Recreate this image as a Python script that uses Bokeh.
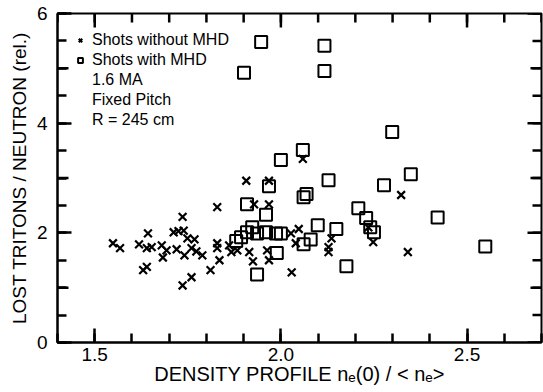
from bokeh.plotting import figure
from bokeh.models import (Range1d, LinearAxis, FixedTicker, Legend, LegendItem,
                          NumeralTickFormatter)
from bokeh.embed import file_html
from bokeh.resources import INLINE

# Shots without MHD (crosses)
x_no_mhd = [1.549, 1.568, 1.619, 1.643, 1.640, 1.653, 1.630, 1.640, 1.680, 1.683,
            1.693, 1.712, 1.725, 1.739, 1.720, 1.736, 1.741, 1.736, 1.760, 1.749,
            1.768, 1.760, 1.773, 1.789, 1.811, 1.829, 1.829, 1.829, 1.835, 1.861,
            1.867, 1.883, 1.915, 1.925, 1.928, 1.968, 1.963, 1.968, 1.907, 1.968,
            2.059, 2.027, 2.048, 2.040, 2.029, 2.136, 2.128, 2.128, 2.235, 2.248,
            2.323, 2.341]
y_no_mhd = [1.81, 1.72, 1.79, 1.99, 1.72, 1.74, 1.32, 1.38, 1.77, 1.55,
            1.68, 2.01, 2.03, 2.04, 1.70, 2.29, 1.59, 1.04, 1.19, 1.90,
            1.88, 1.72, 1.66, 1.59, 1.32, 2.47, 1.81, 1.72, 1.50, 1.77,
            1.65, 1.68, 1.65, 1.48, 2.52, 2.52, 1.68, 1.50, 2.95, 2.95,
            3.35, 1.99, 2.07, 1.81, 1.28, 1.90, 1.74, 1.65, 2.10, 1.83,
            2.69, 1.65]

# Shots with MHD (squares)
x_mhd = [1.901, 1.947, 2.117, 2.117, 2.299, 2.059, 2.000, 2.128, 2.349, 2.277,
         2.061, 2.069, 1.968, 2.208, 2.229, 2.240, 2.250, 2.421, 2.549, 2.176,
         2.099, 2.149, 2.080, 2.061, 1.987, 2.000, 1.989, 1.909, 1.960, 1.923,
         1.909, 1.893, 1.880, 1.936, 1.960, 1.936]
y_mhd = [4.92, 5.48, 5.41, 4.95, 3.84, 3.51, 3.33, 2.96, 3.07, 2.87,
         2.65, 2.71, 2.85, 2.45, 2.27, 2.10, 2.01, 2.28, 1.75, 1.39,
         2.14, 2.07, 1.88, 1.79, 1.99, 1.99, 1.63, 2.52, 2.33, 2.10,
         2.01, 1.92, 1.85, 1.99, 2.01, 1.24]

x_major_ticks = [1.5, 2.0, 2.5]
x_minor_ticks = [1.4, 1.5, 1.6, 1.7, 1.8, 1.9, 2.0, 2.1, 2.2, 2.3, 2.4, 2.5, 2.6, 2.7]
y_major_ticks = [0, 2, 4, 6]
y_mid_ticks = [1, 3, 5]
y_minor_ticks = [0, 0.5, 1, 1.5, 2, 2.5, 3, 3.5, 4, 4.5, 5, 5.5, 6]
legend_lines = ["Shots without MHD", "Shots with MHD", "1.6 MA", "Fixed Pitch", "R = 245 cm"]

X_LO, X_HI = 1.4, 2.7
Y_LO, Y_HI = 0, 6

W, H = 543, 392
B_LEFT, B_RIGHT, B_TOP, B_BOTTOM = 57, 2, 13, 50
FRAME_W = W - B_LEFT - B_RIGHT
FRAME_H = H - B_TOP - B_BOTTOM
DX = (X_HI - X_LO) / FRAME_W   # data units per pixel
DY = (Y_HI - Y_LO) / FRAME_H

FONT = "Liberation Sans"
INK = "#000000"
MAJOR_LEN = 14
MID_LEN = 11
MINOR_LEN = 9
TICK_W = 2.5

p = figure(width=W, height=H, output_backend="svg", toolbar_location=None,
           x_range=Range1d(X_LO, X_HI), y_range=Range1d(Y_LO, Y_HI),
           x_axis_location=None, y_axis_location=None,
           min_border_left=B_LEFT, min_border_right=B_RIGHT,
           min_border_top=B_TOP, min_border_bottom=B_BOTTOM)
p.grid.visible = False
p.outline_line_color = INK
p.outline_line_width = 2
p.background_fill_color = None
p.border_fill_color = "white"


def style_axis(ax, ticks, minor):
    ax.ticker = FixedTicker(ticks=ticks, minor_ticks=minor)
    ax.axis_line_width = 2
    ax.axis_line_color = INK
    ax.major_tick_in = MAJOR_LEN
    ax.major_tick_out = 0
    ax.minor_tick_in = MINOR_LEN
    ax.minor_tick_out = 0
    ax.major_tick_line_width = TICK_W
    ax.minor_tick_line_width = TICK_W
    ax.major_tick_line_color = INK
    ax.minor_tick_line_color = INK
    ax.major_label_text_font = FONT
    ax.major_label_text_color = INK
    ax.major_label_text_font_size = "19px"
    ax.axis_label_text_font = FONT
    ax.axis_label_text_font_style = "normal"
    ax.axis_label_text_color = INK


xb = LinearAxis(axis_label="DENSITY PROFILE nₑ(0) / < nₑ>")
style_axis(xb, x_major_ticks, x_minor_ticks)
xb.formatter = NumeralTickFormatter(format="0.0")
xb.major_label_standoff = 5
xb.axis_label_text_font_size = "20px"
xb.axis_label_standoff = -1
p.add_layout(xb, "below")

yl = LinearAxis(axis_label="LOST TRITONS / NEUTRON (rel.)")
style_axis(yl, y_major_ticks, y_minor_ticks)
yl.major_label_standoff = 10
yl.axis_label_text_font_size = "19px"
yl.axis_label_standoff = 4
p.add_layout(yl, "left")

# inward ticks on the top and right frame edges, and mid-length ticks at odd integers
tick_xs, tick_ys = [], []


def add_top_ticks(xs, length):
    for x in xs:
        tick_xs.append([x, x])
        tick_ys.append([Y_HI, Y_HI - length * DY])


def add_side_ticks(ys, edge, length, direction):
    for y in ys:
        tick_xs.append([edge, edge + direction * length * DX])
        tick_ys.append([y, y])


add_top_ticks(x_minor_ticks, MINOR_LEN)
add_top_ticks(x_major_ticks, MAJOR_LEN)
add_side_ticks(y_minor_ticks, X_HI, MINOR_LEN, -1)
add_side_ticks(y_major_ticks, X_HI, MAJOR_LEN, -1)
add_side_ticks(y_mid_ticks, X_HI, MID_LEN, -1)
add_side_ticks(y_mid_ticks, X_LO, MID_LEN, 1)
p.multi_line(xs=tick_xs, ys=tick_ys, line_color=INK, line_width=TICK_W)

r_no = p.scatter(x_no_mhd, y_no_mhd, marker="x", size=11, line_color=INK, line_width=2.2)
r_mhd = p.scatter(x_mhd, y_mhd, marker="square", size=12, line_color=INK,
                  line_width=2, fill_color=None)
blank = p.scatter([], [], marker="x", size=1, line_alpha=0, fill_alpha=0)

items = [LegendItem(label=legend_lines[0], renderers=[r_no]),
         LegendItem(label=legend_lines[1], renderers=[r_mhd])]
for txt in legend_lines[2:]:
    items.append(LegendItem(label=txt, renderers=[blank]))

legend = Legend(items=items, location="top_left", margin=17, padding=0,
                glyph_width=12, glyph_height=20, label_height=20, label_standoff=6,
                spacing=0, label_text_font=FONT, label_text_font_size="16px",
                label_text_color=INK, background_fill_alpha=0, border_line_alpha=0)
p.add_layout(legend)

open("out.html", "w").write(file_html(p, INLINE))
